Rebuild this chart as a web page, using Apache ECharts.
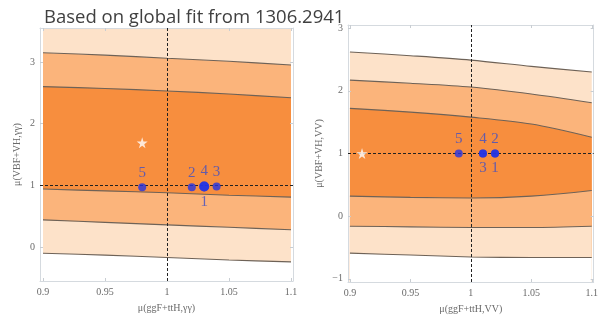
<!DOCTYPE html>
<html>
<head>
<meta charset="utf-8">
<script src="https://cdn.jsdelivr.net/npm/echarts@6/dist/echarts.min.js"></script>
<style>
html,body{margin:0;padding:0;background:#fff;}
#c{width:601px;height:320px;}
</style>
</head>
<body>
<div id="c"></div>
<script>
// ---- data ----
const titleText = 'Based on global fit from 1306.2941';
const xTickValues = [0.9, 0.95, 1, 1.05, 1.1];
const leftYTicks = [0, 1, 2, 3];
const rightYTicks = [-1, 0, 1, 2, 3];
const curveX = [0.9, 0.95, 1.0, 1.05, 1.1];

// left panel (gamma gamma) contour boundaries
const leftUpper2 = [3.15, 3.11, 3.06, 3.01, 2.95];
const leftUpper1 = [2.60, 2.57, 2.53, 2.48, 2.42];
const leftLower1 = [0.94, 0.91, 0.88, 0.84, 0.81];
const leftLower2 = [0.44, 0.40, 0.36, 0.32, 0.28];
const leftLower3 = [-0.10, -0.13, -0.17, -0.21, -0.24];

// right panel (VV) contour boundaries
const rightUpper3 = [2.62, 2.56, 2.49, 2.39, 2.30];
const rightUpper2 = [2.17, 2.12, 2.06, 1.95, 1.81];
const rightUpper1 = [1.72, 1.66, 1.58, 1.47, 1.26];
const rightLower1 = [0.32, 0.30, 0.29, 0.32, 0.41];
const rightLower2 = [-0.16, -0.17, -0.18, -0.18, -0.16];
const rightLower3 = [-0.59, -0.62, -0.65, -0.66, -0.66];

// best-fit stars
const leftStar = [0.98, 1.69];
const rightStar = [0.91, 1.0];

// benchmark points
const pointLabels = ['1', '2', '3', '4', '5'];
const leftPtsX = [1.03, 1.02, 1.04, 1.03, 0.98];
const leftPtsY = [0.98, 0.97, 0.98, 0.98, 0.97];
const rightPtsX = [1.02, 1.02, 1.01, 1.01, 0.99];
const rightPtsY = [1.0, 1.0, 1.0, 1.0, 1.0];

// SM reference lines
const smX = 1;
const smY = 1;

const leftXName = 'μ(ggF+ttH,γγ)';
const leftYName = 'μ(VBF+VH,γγ)';
const rightXName = 'μ(ggF+ttH,VV)';
const rightYName = 'μ(VBF+VH,VV)';

// ---- styling ----
const cLight = '#fde2c9';
const cMed = '#fbb47b';
const cDark = '#f78e3e';
const cLine = '#6e6257';
const frameColor = '#d5dadf';
const serif = 'Liberation Serif';
const blue = '#2233e6';
const labelBlue = '#3f4fc6';

function pairs(xs, ys) { return xs.map((x, i) => [x, ys[i]]); }

function band(xi, yi, ys, color, origin, drawLine) {
  return {
    type: 'line', xAxisIndex: xi, yAxisIndex: yi, data: pairs(curveX, ys),
    showSymbol: false, smooth: 0.3, silent: true,
    lineStyle: drawLine ? { color: cLine, width: 1.1 } : { width: 0, opacity: 0 },
    areaStyle: { color: color, opacity: 1, origin: origin },
    z: 2
  };
}

function axisX(gi, pos, min, max, name, showLabel) {
  return {
    type: 'value', gridIndex: gi, position: pos, min: min, max: max, z: 4,
    axisLine: { show: true, onZero: false, lineStyle: { color: frameColor, width: 1 } },
    axisTick: { show: true, inside: true, length: 3, customValues: xTickValues, lineStyle: { color: '#c8cdd2' } },
    axisLabel: showLabel ? { show: true, customValues: xTickValues, fontFamily: serif, fontSize: 10, color: '#6a6a6a', margin: 6 } : { show: false },
    splitLine: { show: false },
    name: name, nameLocation: 'middle', nameGap: 22,
    nameTextStyle: { fontFamily: serif, fontSize: 10, color: '#6a6a6a' }
  };
}
function axisY(gi, pos, min, max, ticks, name, gap, showLabel) {
  return {
    type: 'value', gridIndex: gi, position: pos, min: min, max: max, z: 4,
    axisLine: { show: true, onZero: false, lineStyle: { color: frameColor, width: 1 } },
    axisTick: { show: true, inside: true, length: 3, customValues: ticks, lineStyle: { color: '#c8cdd2' } },
    axisLabel: showLabel ? { show: true, customValues: ticks, fontFamily: serif, fontSize: 10, color: '#6a6a6a', margin: 5,
      formatter: v => (v < 0 ? '\u2212' + Math.abs(v) : String(v)) } : { show: false },
    splitLine: { show: false },
    name: name, nameLocation: 'middle', nameGap: gap, nameRotate: 90,
    nameTextStyle: { fontFamily: serif, fontSize: 10, color: '#6a6a6a' }
  };
}

const starPath = 'path://M50,0 L61,35 L98,35 L68,57 L79,91 L50,70 L21,91 L32,57 L2,35 L39,35 Z';

function refLines() {
  return {
    symbol: 'none', silent: true, animation: false,
    label: { show: false },
    lineStyle: { color: '#222', type: [3, 2], width: 1 },
    data: [{ xAxis: smX }, { yAxis: smY }]
  };
}

function points(xi, yi, xs, ys, bottomSet, bigSet) {
  return {
    type: 'scatter', xAxisIndex: xi, yAxisIndex: yi, z: 6,
    data: xs.map((x, i) => ({
      value: [x, ys[i]],
      symbolSize: bigSet.includes(pointLabels[i]) ? 10 : 8,
      label: {
        show: true, formatter: pointLabels[i],
        position: bottomSet.includes(pointLabels[i]) ? 'bottom' : 'top',
        distance: 3,
        fontFamily: serif, fontSize: 15, color: labelBlue
      }
    })),
    itemStyle: { color: blue },
    markLine: refLines()
  };
}

const option = {
  animation: false,
  backgroundColor: '#ffffff',
  title: {
    text: titleText, left: 39, top: 3,
    textStyle: { fontFamily: 'Open Sans', fontSize: 18.5, fontWeight: 'normal', color: '#404040' }
  },
  grid: [
    { left: 40, top: 28, width: 253, height: 253 },
    { left: 348, top: 25, width: 258, height: 257 }
  ],
  xAxis: [
    axisX(0, 'bottom', 0.8976, 1.1016, leftXName, true),
    axisX(0, 'top', 0.8976, 1.1016, '', false),
    axisX(1, 'bottom', 0.8984, 1.1016, rightXName, true),
    axisX(1, 'top', 0.8984, 1.1016, '', false)
  ],
  yAxis: [
    axisY(0, 'left', -0.55, 3.55, leftYTicks, leftYName, 18, true),
    axisY(0, 'right', -0.55, 3.55, leftYTicks, '', 10, false),
    axisY(1, 'left', -1.05, 3.05, rightYTicks, rightYName, 24, true),
    axisY(1, 'right', -1.05, 3.05, rightYTicks, '', 10, false)
  ],
  series: [
    // left panel
    band(0, 0, leftUpper2, cLight, 'end', false),
    band(0, 0, leftUpper2, cMed, 'start', true),
    band(0, 0, leftUpper1, cDark, 'start', true),
    band(0, 0, leftLower1, cMed, 'start', true),
    band(0, 0, leftLower2, cLight, 'start', true),
    band(0, 0, leftLower3, '#ffffff', 'start', true),
    points(0, 0, leftPtsX, leftPtsY, ['1'], ['4', '1']),
    { type: 'scatter', xAxisIndex: 0, yAxisIndex: 0, z: 6, data: [leftStar], symbol: starPath, symbolSize: 11, itemStyle: { color: '#ffffff' } },
    // right panel
    band(2, 2, rightUpper3, cLight, 'start', true),
    band(2, 2, rightUpper2, cMed, 'start', true),
    band(2, 2, rightUpper1, cDark, 'start', true),
    band(2, 2, rightLower1, cMed, 'start', true),
    band(2, 2, rightLower2, cLight, 'start', true),
    band(2, 2, rightLower3, '#ffffff', 'start', true),
    points(2, 2, rightPtsX, rightPtsY, ['1', '3'], []),
    { type: 'scatter', xAxisIndex: 2, yAxisIndex: 2, z: 6, data: [rightStar], symbol: starPath, symbolSize: 11, itemStyle: { color: '#ffffff' } }
  ]
};

const chart = echarts.init(document.getElementById('c'), null, { renderer: 'canvas' });
chart.setOption(option);
</script>
</body>
</html>
